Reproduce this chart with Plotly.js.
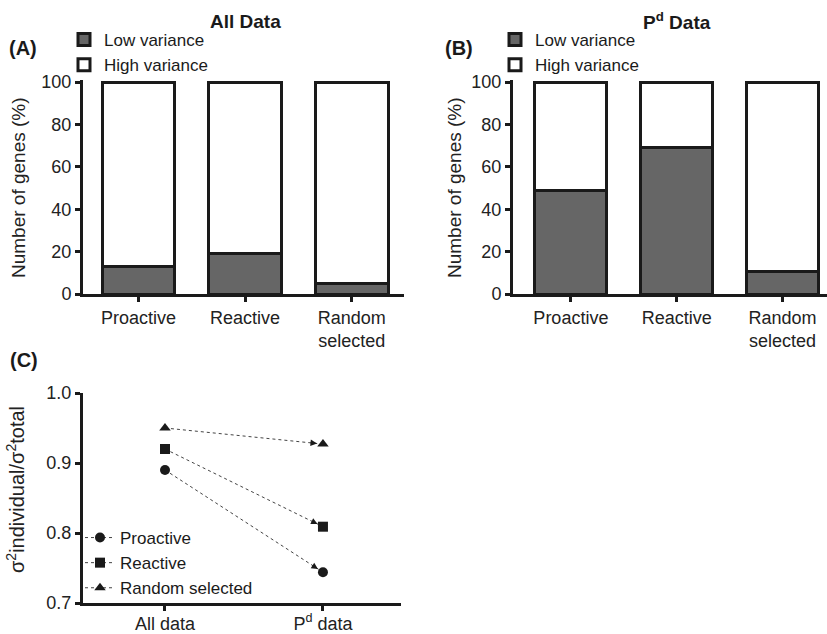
<!DOCTYPE html>
<html>
<head>
<meta charset="utf-8">
<script src="https://cdn.plot.ly/plotly-3.0.1.min.js"></script>
<style>html,body{margin:0;padding:0;background:#fff;}#chart{width:827px;height:634px;}</style>
</head>
<body>
<div id="chart"></div>
<script>
// ---- Data ----
const groups = ["Proactive", "Reactive", "Random<br>selected"];
const allLowVariance = [13, 19, 5];
const allHighVariance = [87, 81, 95];
const pdLowVariance = [49, 69, 10.5];
const pdHighVariance = [51, 31, 89.5];

const cCategories = ["All data", "P<sup>d</sup> data"];
const cProactive = [0.89, 0.744];
const cReactive = [0.92, 0.809];
const cRandom = [0.95, 0.927];
const cSeriesNames = ["Proactive", "Reactive", "Random selected"];

// ---- Styles ----
const FONT = "Arial, 'Liberation Sans', sans-serif";
const INK = "#1a1a1a";
const GRAY = "#666666";
const W = 827, H = 634;
const px = v => v / W;
const py = v => 1 - v / H;

function barTrace(x, y, name, fill, xa, ya, legend) {
  return {
    type: "bar", x: x, y: y, name: name, xaxis: xa, yaxis: ya,
    legend: legend, showlegend: true, width: 0.68,
    marker: {color: fill, line: {color: INK, width: 3}},
    hoverinfo: "y"
  };
}

const traces = [
  barTrace(groups, allLowVariance, "Low variance", GRAY, "x", "y", "legend"),
  barTrace(groups, allHighVariance, "High variance", "#ffffff", "x", "y", "legend"),
  barTrace(groups, pdLowVariance, "Low variance", GRAY, "x2", "y2", "legend2"),
  barTrace(groups, pdHighVariance, "High variance", "#ffffff", "x2", "y2", "legend2")
];

const cSeries = [cProactive, cReactive, cRandom];
const cSymbols = ["circle", "square", "triangle-up"];
cSeries.forEach((vals, i) => {
  traces.push({
    type: "scatter", mode: "lines+markers", x: cCategories, y: vals,
    name: cSeriesNames[i], xaxis: "x3", yaxis: "y3", legend: "legend3",
    line: {color: "#444", width: 1, dash: "dot"},
    marker: {symbol: cSymbols[i], size: 10, color: INK},
    cliponaxis: false
  });
});

const tickFont = {family: FONT, size: 18, color: "#222"};
const axisBase = {
  showline: true, linewidth: 3, linecolor: INK, showgrid: false, zeroline: false,
  ticks: "outside", ticklen: 5, tickwidth: 3, tickcolor: INK, tickfont: tickFont,
  fixedrange: true
};

const legendBase = {
  font: {family: FONT, size: 17, color: INK}, bgcolor: "rgba(0,0,0,0)",
  traceorder: "normal", xanchor: "left", yanchor: "top", tracegroupgap: 0,
  itemwidth: 30
};

function note(text, x, y, size, extra) {
  return Object.assign({
    text: text, x: px(x), y: py(y), xref: "paper", yref: "paper",
    xanchor: "center", yanchor: "middle", showarrow: false,
    font: {family: FONT, size: size, color: INK}
  }, extra || {});
}

const layout = {
  width: W, height: H,
  margin: {l: 0, r: 0, t: 0, b: 0},
  paper_bgcolor: "#fff", plot_bgcolor: "rgba(0,0,0,0)",
  barmode: "stack",
  font: {family: FONT, color: INK},
  xaxis: Object.assign({}, axisBase, {domain: [px(83), px(404)], range: [-0.52, 2.49], anchor: "y", type: "category"}),
  yaxis: Object.assign({}, axisBase, {domain: [py(294), py(80)], range: [0, 101], tickvals: [0, 20, 40, 60, 80, 100], anchor: "x"}),
  xaxis2: Object.assign({}, axisBase, {domain: [px(513), px(827)], range: [-0.547, 2.42], anchor: "y2", type: "category"}),
  yaxis2: Object.assign({}, axisBase, {domain: [py(294), py(80)], range: [0, 101], tickvals: [0, 20, 40, 60, 80, 100], anchor: "x2"}),
  xaxis3: Object.assign({}, axisBase, {domain: [px(83), px(401)], range: [-0.519, 1.494], anchor: "y3", type: "category", ticklabelstandoff: -3}),
  yaxis3: Object.assign({}, axisBase, {domain: [py(603), py(393)], range: [0.7, 1.0], tickvals: [0.7, 0.8, 0.9, 1.0], tickformat: ".1f", anchor: "x3"}),
  legend: Object.assign({}, legendBase, {x: px(64), y: py(22)}),
  legend2: Object.assign({}, legendBase, {x: px(495), y: py(22)}),
  legend3: Object.assign({}, legendBase, {x: px(80), y: py(520)}),
  annotations: [
    note("<b>All Data</b>", 245, 21, 19),
    note("<b>P<sup>d</sup> Data</b>", 677, 21, 19),
    note("<b>(A)</b>", 23, 48, 20),
    note("<b>(B)</b>", 459, 48, 20),
    note("<b>(C)</b>", 24, 360, 20),
    note("Number of genes (%)", 19, 188, 19, {textangle: -90, font: {family: FONT, size: 19, color: "#222"}}),
    note("Number of genes (%)", 455, 188, 19, {textangle: -90, font: {family: FONT, size: 19, color: "#222"}}),
    note("σ<sup>2</sup>individual/σ<sup>2</sup>total", 15, 490, 20, {textangle: -90, font: {family: FONT, size: 20, color: "#222"}})
  ]
};

Plotly.newPlot("chart", traces, layout, {displayModeBar: false, staticPlot: true}).then(gd => {
  // small arrowheads where the dotted connectors meet the P^d points
  const xa = gd._fullLayout.xaxis3, ya = gd._fullLayout.yaxis3;
  const extra = cSeries.map(vals => {
    const dx = xa.c2p(1) - xa.c2p(0);
    const dy = ya.c2p(vals[1]) - ya.c2p(vals[0]);
    const len = Math.sqrt(dx * dx + dy * dy);
    const L = 14;
    return {
      x: 1, y: vals[1], xref: "x3", yref: "y3", showarrow: true,
      ax: -L * dx / len, ay: -L * dy / len, axref: "pixel", ayref: "pixel",
      arrowhead: 2, arrowsize: 1.3, arrowwidth: 1, arrowcolor: INK, standoff: 6, text: ""
    };
  });
  Plotly.relayout(gd, {annotations: layout.annotations.concat(extra)});
});
</script>
</body>
</html>
